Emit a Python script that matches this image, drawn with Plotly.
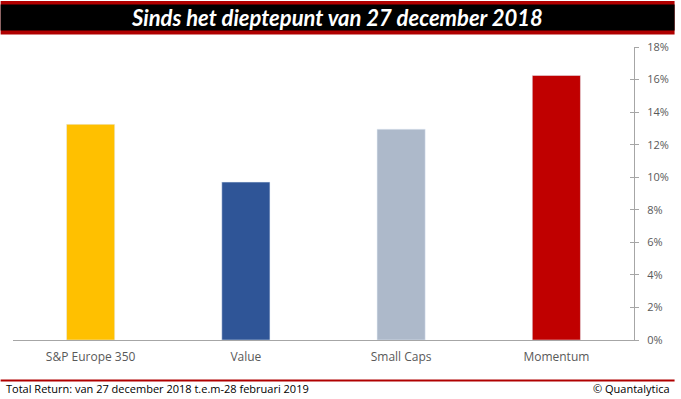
import plotly.graph_objects as go

categories = ["S&P Europe 350", "Value", "Small Caps", "Momentum"]
values = [13.25, 9.7, 12.95, 16.25]
bar_colors = ["#FFC000", "#2F5597", "#ADB9CA", "#C00000"]
tick_vals = [0, 2, 4, 6, 8, 10, 12, 14, 16, 18]
tick_text = [f"{v}%" for v in tick_vals]

title_text = "Sinds het dieptepunt van 27 december 2018"
footer_left = "Total Return: van 27 december 2018 t.e.m-28 februari 2019"
footer_right = "© Quantalytica"

W, H = 681, 399
L, R, T, B = 12.5, 41, 46.6, 59
PW, PH = W - L - R, H - T - B

def px(x):
    return (x - L) / PW

def py(y):
    return (H - B - y) / PH

fig = go.Figure()
fig.add_trace(go.Bar(x=categories, y=values, marker_color=bar_colors,
                     width=0.31, showlegend=False, hoverinfo="skip"))
# invisible trace to drive second y axis (inner ticks)
fig.add_trace(go.Scatter(x=categories, y=values, yaxis="y2", mode="markers",
                         marker=dict(opacity=0), showlegend=False, hoverinfo="skip"))

shapes = [
    dict(type="rect", xref="paper", yref="paper", x0=px(0), x1=px(W), y0=py(0.5), y1=py(34),
         fillcolor="#B00000", line_width=0, layer="above"),
    dict(type="rect", xref="paper", yref="paper", x0=px(0), x1=px(W), y0=py(4), y1=py(30),
         fillcolor="#000000", line_width=0, layer="above"),
    dict(type="line", xref="paper", yref="paper", x0=px(0), x1=px(W), y0=py(380.5), y1=py(380.5),
         line=dict(color="#B00000", width=2)),
]

annotations = [
    dict(text=f"<b><i>{title_text}</i></b>", xref="paper", yref="paper", x=px(340), y=py(17),
         xanchor="center", yanchor="middle", showarrow=False,
         font=dict(family="Lato", size=22, color="white")),
    dict(text=footer_left, xref="paper", yref="paper", x=px(3), y=py(389),
         xanchor="left", yanchor="middle", showarrow=False,
         font=dict(family="Open Sans", size=11, color="#000000")),
    dict(text=footer_right, xref="paper", yref="paper", x=px(678), y=py(389),
         xanchor="right", yanchor="middle", showarrow=False,
         font=dict(family="Open Sans", size=11, color="#000000")),
]

fig.update_layout(
    width=W, height=H,
    margin=dict(l=L, r=R, t=T, b=B, pad=0),
    paper_bgcolor="white", plot_bgcolor="white",
    xaxis=dict(showgrid=False, showline=True, linecolor="#A6A6A6", linewidth=1,
               ticks="", tickfont=dict(family="Open Sans", size=12, color="#595959"),
               ticklabelstandoff=6, fixedrange=True),
    yaxis=dict(range=[0, 18], side="right", tickvals=tick_vals, ticktext=tick_text,
               showgrid=False, zeroline=False, showline=True, linecolor="#A6A6A6", linewidth=1,
               ticks="outside", ticklen=4, tickcolor="#A6A6A6",
               tickfont=dict(family="Open Sans", size=11, color="#595959"),
               ticklabelstandoff=6),
    yaxis2=dict(range=[0, 18], overlaying="y", side="right", tickvals=tick_vals,
                showticklabels=False, showgrid=False, zeroline=False, showline=False,
                ticks="inside", ticklen=4, tickcolor="#A6A6A6"),
    shapes=shapes,
    annotations=annotations,
    bargap=0.69,
)

fig.write_html("out.html", config={"displayModeBar": False})

with open("out.html", "r", encoding="utf-8") as f:
    html = f.read()
html = html.replace("<body>", "<body style=\"margin:0;padding:0;overflow:hidden\">", 1)
with open("out.html", "w", encoding="utf-8") as f:
    f.write(html)
